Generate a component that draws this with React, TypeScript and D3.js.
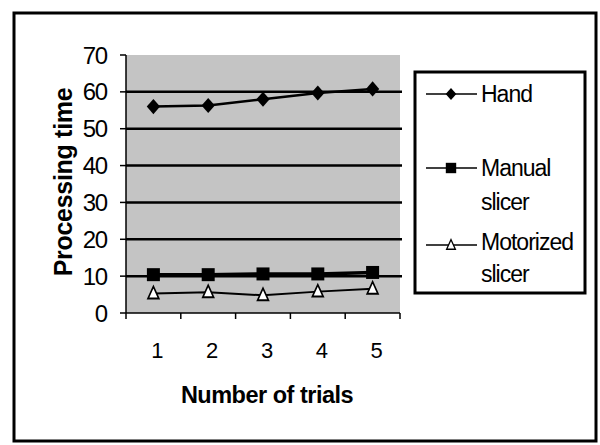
import React from "react";
import * as d3 from "d3";

const trials = ["1", "2", "3", "4", "5"];
const handValues = [56, 56.3, 58, 59.7, 60.8];
const manualValues = [10.4, 10.4, 10.6, 10.6, 11];
const motorValues = [5.3, 5.6, 4.8, 5.8, 6.6];
const yTicks = [0, 10, 20, 30, 40, 50, 60, 70];
const legendItems = [
  { lines: ["Hand"], marker: "diamond" },
  { lines: ["Manual", "slicer"], marker: "square" },
  { lines: ["Motorized", "slicer"], marker: "triangle" },
];

const W = 600;
const H = 445;
const plot = { left: 126, right: 400, top: 55, bottom: 313 };
const FONT = "'Liberation Sans', Arial, Helvetica, sans-serif";

function Marker({ type, x, y, k = 1 }: { type: string; x: number; y: number; k?: number }) {
  if (type === "diamond") {
    const p = d3.symbol(d3.symbolDiamond2, 125)();
    return (
      <path d={p || ""} transform={`translate(${x},${y}) scale(${0.95 * k},${1.08 * k})`} fill="#000" />
    );
  }
  if (type === "square") {
    const p = d3.symbol(d3.symbolSquare, 169)();
    return <path d={p || ""} transform={`translate(${x},${y}) scale(${k})`} fill="#000" />;
  }
  const p = d3.symbol(d3.symbolTriangle, 83)();
  return (
    <path
      d={p || ""}
      transform={`translate(${x},${y + 1}) scale(${0.78 * k},${k})`}
      fill="#fff"
      stroke="#000"
      strokeWidth={2}
    />
  );
}

export default function App() {
  const x = d3.scaleBand().domain(trials).range([plot.left, plot.right]).padding(0);
  const y = d3.scaleLinear().domain([0, 70]).range([plot.bottom, plot.top]);
  const cx = (t: string) => (x(t) || 0) + x.bandwidth() / 2;
  const line = d3
    .line<number>()
    .x((_, i) => cx(trials[i]))
    .y((v) => y(v));

  const series = [
    { values: handValues, marker: "diamond", width: 2.5 },
    { values: manualValues, marker: "square", width: 3.5 },
    { values: motorValues, marker: "triangle", width: 2 },
  ];

  const tickXs = [...trials.map((t) => x(t) || 0), plot.right];

  const legendLineY = [94, 168, 245];
  const legendTextY = [[94], [168, 202], [242, 274]];

  return (
    <svg
      width={W}
      height={H}
      style={{ position: "absolute", left: 0, top: 0, background: "#fff" }}
      fontFamily={FONT}
    >
      <rect x={0} y={0} width={W} height={H} fill="#fff" />
      {/* outer frame */}
      <rect x={14} y={13} width={582} height={428} fill="none" stroke="#000" strokeWidth={3} />

      {/* plot background */}
      <rect
        x={plot.left}
        y={plot.top}
        width={plot.right - plot.left}
        height={plot.bottom - plot.top}
        fill="#c4c4c4"
      />

      {/* gridlines */}
      {yTicks
        .filter((t) => t > 0 && t < 70)
        .map((t) => (
          <line
            key={t}
            x1={plot.left}
            x2={plot.right + 2}
            y1={y(t)}
            y2={y(t)}
            stroke="#000"
            strokeWidth={2.5}
          />
        ))}

      {/* y axis */}
      <line x1={plot.left} x2={plot.left} y1={plot.top} y2={plot.bottom} stroke="#000" strokeWidth={1.5} />
      {yTicks.map((t) => (
        <g key={t}>
          <line x1={plot.left - 6} x2={plot.left} y1={y(t)} y2={y(t)} stroke="#000" strokeWidth={1.5} />
          <text
            x={107}
            y={y(t)}
            dy="0.36em"
            textAnchor="end"
            fontSize={24}
            letterSpacing={-1.2}
            fill="#000"
          >
            {t}
          </text>
        </g>
      ))}

      {/* x axis */}
      <line x1={plot.left} x2={plot.right} y1={plot.bottom} y2={plot.bottom} stroke="#000" strokeWidth={1.5} />
      {tickXs.map((tx, i) => (
        <line key={i} x1={tx} x2={tx} y1={plot.bottom} y2={plot.bottom + 6} stroke="#000" strokeWidth={1.5} />
      ))}
      {trials.map((t) => (
        <text
          key={t}
          x={cx(t) + 4}
          y={358}
          textAnchor="middle"
          fontSize={22}
          fill="#000"
        >
          {t}
        </text>
      ))}

      {/* series */}
      {series.map((s, si) => (
        <g key={si}>
          <path d={line(s.values) || ""} fill="none" stroke="#000" strokeWidth={s.width} />
          {s.values.map((v, i) => (
            <Marker key={i} type={s.marker} x={cx(trials[i])} y={y(v)} />
          ))}
        </g>
      ))}

      {/* axis titles */}
      <text
        x={267}
        y={403}
        textAnchor="middle"
        fontSize={23.5}
        fontWeight="bold"
        letterSpacing={-0.5}
        fill="#000"
      >
        Number of trials
      </text>
      <text
        transform="translate(72,182) rotate(-90)"
        textAnchor="middle"
        fontSize={25}
        fontWeight="bold"
        letterSpacing={-0.3}
        fill="#000"
      >
        Processing time
      </text>

      {/* legend */}
      <rect x={415} y={72} width={170} height={221} fill="#fff" stroke="#000" strokeWidth={3} />
      {legendItems.map((item, i) => (
        <g key={i}>
          <line x1={426} x2={477} y1={legendLineY[i]} y2={legendLineY[i]} stroke="#000" strokeWidth={1.5} />
          <Marker type={item.marker} x={451} y={legendLineY[i]} k={0.8} />
          {item.lines.map((ln, j) => (
            <text
              key={j}
              x={481}
              y={legendTextY[i][j]}
              dy="0.36em"
              fontSize={23}
              letterSpacing={-1}
              fill="#000"
            >
              {ln}
            </text>
          ))}
        </g>
      ))}
    </svg>
  );
}
